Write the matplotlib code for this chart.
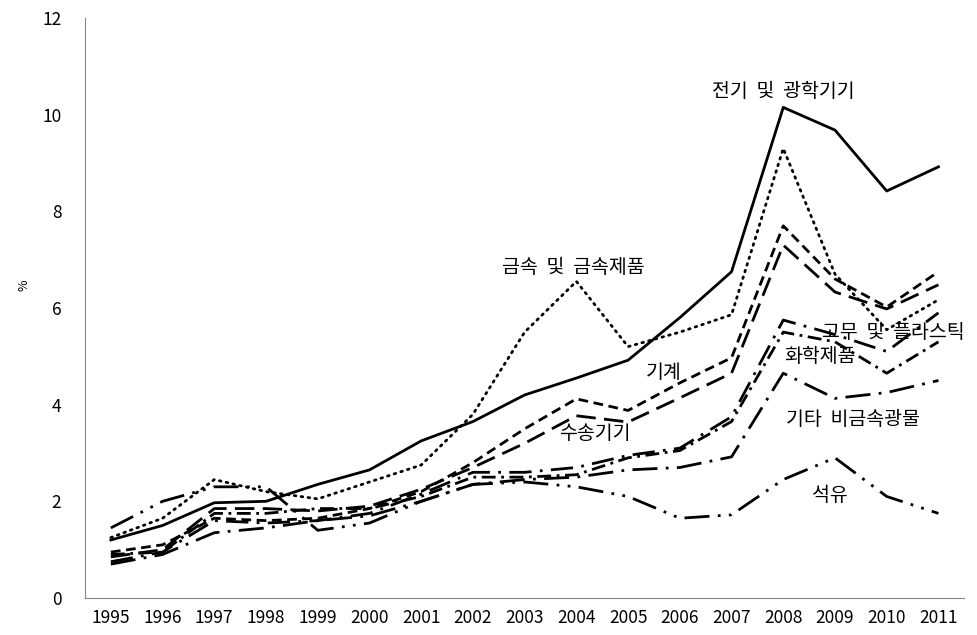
import numpy as np
import matplotlib
matplotlib.use('Agg')
import matplotlib.pyplot as plt

plt.rcParams['font.family'] = ['Noto Sans CJK KR', 'DejaVu Sans']

years = [str(y) for y in range(1995, 2012)]

# 전기 및 광학기기
elec = [1.2, 1.5, 1.97, 2.0, 2.35, 2.65, 3.25, 3.65, 4.2, 4.55, 4.92, 5.8, 6.75, 10.15, 9.68, 8.42, 8.92]
# 금속 및 금속제품
metal = [1.25, 1.65, 2.45, 2.2, 2.05, 2.4, 2.75, 3.8, 5.5, 6.55, 5.2, 5.5, 5.86, 9.3, 6.7, 5.55, 6.17]
# 기계
mach = [0.95, 1.1, 1.65, 1.6, 1.65, 1.85, 2.2, 2.8, 3.5, 4.12, 3.88, 4.45, 4.97, 7.7, 6.6, 6.02, 6.75]
# 수송기기
trans = [0.85, 1.0, 1.85, 1.85, 1.8, 1.9, 2.25, 2.7, 3.2, 3.77, 3.64, 4.14, 4.65, 7.3, 6.33, 5.98, 6.48]
# 고무 및 플라스틱
rubber = [0.75, 0.95, 1.6, 1.55, 1.6, 1.75, 2.15, 2.6, 2.6, 2.7, 2.95, 3.1, 3.75, 5.75, 5.45, 5.1, 5.9]
# 화학제품
chem = [0.9, 0.95, 1.75, 1.75, 1.85, 1.85, 2.1, 2.5, 2.5, 2.55, 2.9, 3.05, 3.65, 5.5, 5.3, 4.65, 5.3]
# 기타 비금속광물
mineral = [0.7, 0.9, 1.35, 1.45, 1.6, 1.7, 2.0, 2.35, 2.45, 2.5, 2.65, 2.7, 2.92, 4.65, 4.13, 4.25, 4.5]
# 석유
oil = [1.45, 2.0, 2.3, 2.3, 1.4, 1.55, 2.0, 2.35, 2.4, 2.3, 2.1, 1.65, 1.72, 2.45, 2.9, 2.1, 1.75]

series = [
    (elec, '-'),
    (metal, (0, (0.6, 1.9))),
    (mach, (0, (3.5, 2))),
    (trans, (0, (7, 3))),
    (rubber, (0, (8, 3, 1, 3))),
    (chem, (0, (5, 2, 1, 2))),
    (mineral, (0, (9, 3, 1, 3))),
    (oil, (0, (9, 3, 1, 3, 1, 3))),
]

labels = [
    ('전기  및  광학기기', 13.0, 10.48),
    ('금속  및  금속제품', 8.95, 6.83),
    ('기계', 10.68, 4.66),
    ('수송기기', 9.36, 3.4),
    ('고무  및  플라스틱', 15.13, 5.49),
    ('화학제품', 13.7, 4.99),
    ('기타  비금속광물', 14.35, 3.69),
    ('석유', 13.9, 2.13),
]

fig = plt.figure(figsize=(9.77, 6.35), dpi=100)
ax = fig.add_axes([0.087, 0.0583, 0.9, 0.9134])

x = np.arange(len(years))
for vals, ls in series:
    if ls == (0, (0.6, 1.9)):
        ax.plot(x, vals, color='black', lw=2, linestyle=ls, dash_capstyle='round')
    else:
        ax.plot(x, vals, color='black', lw=2, linestyle=ls)

for txt, lx, ly in labels:
    ax.text(lx, ly, txt, ha='center', va='center', fontsize=14)

ax.set_xlim(-0.5, 16.5)
ax.set_ylim(0, 12)
ax.set_xticks(x)
ax.set_xticklabels(years)
ax.set_yticks(range(0, 13, 2))
ax.tick_params(length=0, labelsize=12.5, pad=8)
ax.tick_params(axis='y', pad=17)
for s in ['top', 'right']:
    ax.spines[s].set_visible(False)
for s in ['left', 'bottom']:
    ax.spines[s].set_color('#868686')
ax.set_ylabel('%', fontsize=9)
ax.yaxis.set_label_coords(-0.062, 0.54)

fig.savefig('out.png', dpi=100)
